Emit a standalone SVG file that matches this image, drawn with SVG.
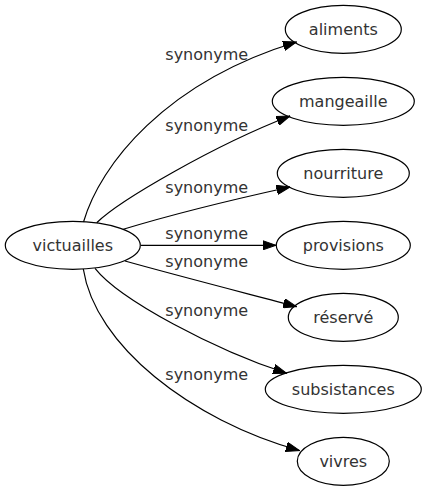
<svg xmlns="http://www.w3.org/2000/svg" width="427" height="491" viewBox="0 0 427 491">
<style>
  .node ellipse { fill: none; stroke: #000; stroke-width: 1.2; }
  .node text { font-family: "DejaVu Sans", "Liberation Sans", sans-serif; font-size: 16px; fill: #333; text-anchor: middle; }
  .edges path { fill: none; stroke: #000; stroke-width: 1.2; marker-end: url(#arrow); }
  .edges text { font-family: "DejaVu Sans", "Liberation Sans", sans-serif; font-size: 16px; fill: #333; text-anchor: middle; }
</style>
<defs>
  <marker id="arrow" markerUnits="userSpaceOnUse" markerWidth="14" markerHeight="10" refX="13.5" refY="4.7" orient="auto" viewBox="0 0 14 9.4">
    <path d="M0,0 L13.5,4.7 L0,9.4 z" fill="#000" stroke="#000" stroke-width="1"/>
  </marker>
</defs>
<rect width="427" height="491" fill="#fff"/>
<g id="edges" class="edges">
  <path d="M83.5,222 C100,165 165,82 296.5,42"/>
  <text x="206.7" y="60">synonyme</text>
  <path d="M96.7,222.7 C120,200 215,145 290,116"/>
  <text x="206.7" y="131">synonyme</text>
  <path d="M123.3,229.3 C170,215 240,198 290,187"/>
  <text x="206.7" y="193">synonyme</text>
  <path d="M141,245.3 L276,245.3"/>
  <text x="206.7" y="239">synonyme</text>
  <text x="206.7" y="267">synonyme</text>
  <path d="M125,261 C175,275 245,293 296.7,306.7"/>
  <path d="M95,268.3 C120,300 215,350 286.7,373.3"/>
  <text x="206.7" y="316">synonyme</text>
  <path d="M83.3,269 C95,345 190,420 299.5,450.5"/>
  <text x="206.7" y="380">synonyme</text>
</g>
<g id="victuailles" class="node">
  <ellipse cx="72.8" cy="245.3" rx="67.5" ry="24"/>
  <text x="72.8" y="250.8">victuailles</text>
</g>
<g id="aliments" class="node">
  <ellipse cx="343.3" cy="29.3" rx="58" ry="24"/>
  <text x="343.3" y="34.8">aliments</text>
</g>
<g id="mangeaille" class="node">
  <ellipse cx="343.3" cy="101.3" rx="71" ry="24"/>
  <text x="343.3" y="106.8">mangeaille</text>
</g>
<g id="nourriture" class="node">
  <ellipse cx="343.3" cy="173.3" rx="66" ry="24"/>
  <text x="343.3" y="178.8">nourriture</text>
</g>
<g id="provisions" class="node">
  <ellipse cx="343.3" cy="245.3" rx="67" ry="24"/>
  <text x="343.3" y="250.8">provisions</text>
</g>
<g id="reserve" class="node">
  <ellipse cx="343.3" cy="317.3" rx="55" ry="24"/>
  <text x="343.3" y="322.8">réservé</text>
</g>
<g id="subsistances" class="node">
  <ellipse cx="343.3" cy="389.3" rx="78" ry="24"/>
  <text x="343.3" y="394.8">subsistances</text>
</g>
<g id="vivres" class="node">
  <ellipse cx="343.3" cy="461.3" rx="46" ry="24"/>
  <text x="343.3" y="466.8">vivres</text>
</g>
</svg>
